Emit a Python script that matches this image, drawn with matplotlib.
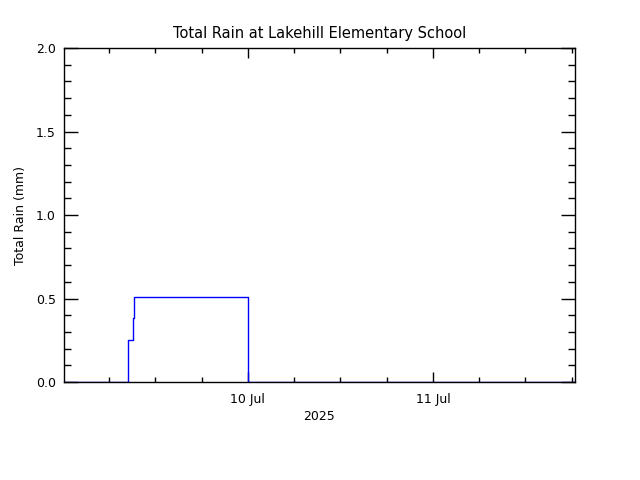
import matplotlib
matplotlib.use("Agg")
import matplotlib.pyplot as plt
import matplotlib.dates as mdates
import numpy as np
from datetime import datetime

# rain accumulation (mm), stepped
times = [datetime(2025, 7, 9, 0, 10), datetime(2025, 7, 9, 8, 25), datetime(2025, 7, 9, 9, 5),
         datetime(2025, 7, 9, 9, 15), datetime(2025, 7, 10, 0, 0), datetime(2025, 7, 11, 18, 25)]
rain = [0.0, 0.254, 0.381, 0.508, 0.0, 0.0]

x_start = datetime(2025, 7, 9, 0, 10)
x_end = datetime(2025, 7, 11, 18, 25)

plt.rcParams['font.family'] = ['DejaVu Sans']
fig = plt.figure(figsize=(6.4, 4.8), dpi=100)
ax = fig.add_axes([0.1, 0.204, 0.7984, 0.696])

ax.step(times, rain, where='post', color='blue', linewidth=1)

ax.set_xlim(x_start, x_end)
ax.set_ylim(0, 2.0)
ax.xaxis.set_major_locator(mdates.DayLocator())
ax.xaxis.set_major_formatter(mdates.DateFormatter('%d %b'))
ax.xaxis.set_minor_locator(mdates.HourLocator(byhour=[0, 6, 12, 18]))
ax.yaxis.set_major_locator(plt.MultipleLocator(0.5))
ax.yaxis.set_minor_locator(plt.MultipleLocator(0.1))
ax.yaxis.set_major_formatter(plt.FormatStrFormatter('%.1f'))

ax.tick_params(which='both', direction='in', top=True, right=True, labelsize=9, width=1)
ax.tick_params(axis='x', which='major', length=7, pad=8)
ax.tick_params(axis='x', which='minor', length=3.5)
ax.tick_params(axis='y', which='major', length=10, pad=6)
ax.tick_params(axis='y', which='minor', length=5)
for s in ax.spines.values():
    s.set_linewidth(1)

ax.set_title('Total Rain at Lakehill Elementary School', fontsize=10.5, pad=7)
ax.set_ylabel('Total Rain (mm)', fontsize=9, labelpad=6)
ax.set_xlabel('2025', fontsize=9, labelpad=3)

fig.savefig('out.png', dpi=100)
